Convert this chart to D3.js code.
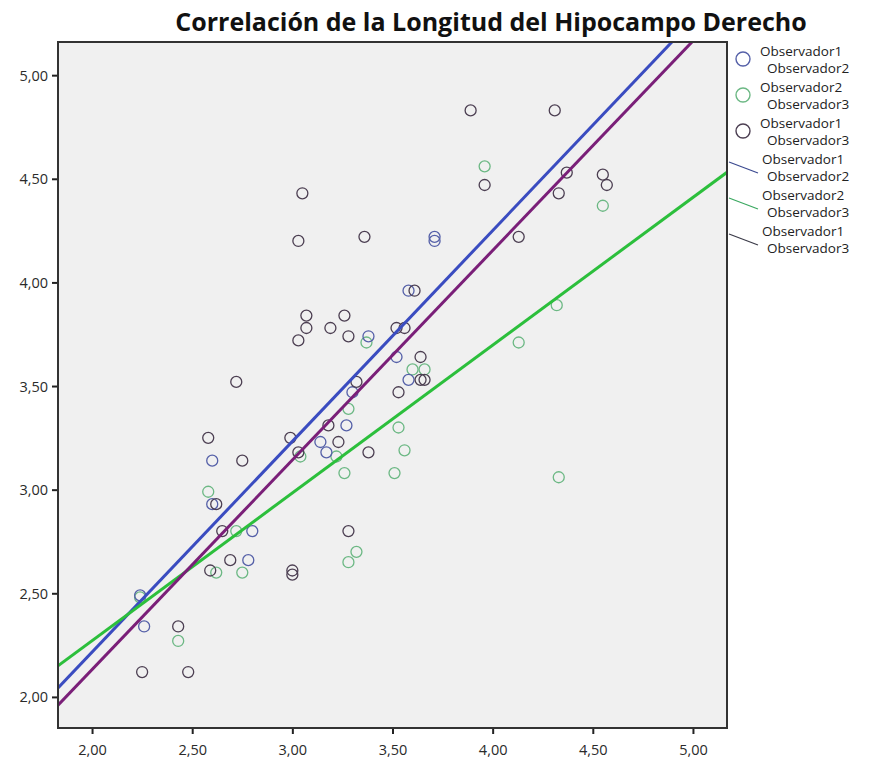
<!DOCTYPE html>
<html>
<head>
<meta charset="utf-8">
<script src="https://cdn.jsdelivr.net/npm/d3@7"></script>
<style>
  body { margin: 0; background: #fff; }
  text { font-family: "Open Sans", "DejaVu Sans", sans-serif; }
</style>
</head>
<body>
<div id="chart"></div>
<script>
const TITLE = "Correlación de la Longitud del Hipocampo Derecho";
const SERIES = [["Observador1", "Observador2"], ["Observador2", "Observador3"], ["Observador1", "Observador3"]];
const TICKS = [2.0, 2.5, 3.0, 3.5, 4.0, 4.5, 5.0];

// Observador1 vs Observador2
const s1x = [3.71, 3.71, 3.58, 3.38, 3.52, 3.58, 3.30, 3.27, 3.14, 3.17, 2.60, 2.60, 2.80, 2.78, 2.24, 2.26];
const s1y = [4.22, 4.20, 3.96, 3.74, 3.64, 3.53, 3.47, 3.31, 3.23, 3.18, 3.14, 2.93, 2.80, 2.66, 2.49, 2.34];
// Observador2 vs Observador3
const s2x = [3.96, 4.55, 4.32, 4.13, 3.37, 3.60, 3.66, 3.28, 3.53, 3.56, 3.22, 3.04, 3.26, 3.51, 4.33, 2.58, 2.72, 3.32, 3.28, 2.62, 2.75, 2.43, 2.24];
const s2y = [4.56, 4.37, 3.89, 3.71, 3.71, 3.58, 3.58, 3.39, 3.30, 3.19, 3.16, 3.16, 3.08, 3.08, 3.06, 2.99, 2.80, 2.70, 2.65, 2.60, 2.60, 2.27, 2.48];
// Observador1 vs Observador3
const s3x = [3.89, 4.31, 3.05, 3.03, 3.36, 3.96, 4.37, 4.55, 4.57, 4.33, 4.13, 3.61, 3.07, 3.07, 3.03, 3.19, 3.26, 3.28, 3.52, 3.56, 2.72, 3.64, 3.64, 3.66, 3.32, 3.53, 2.58, 2.99, 3.18, 3.23, 3.03, 3.38, 2.75, 2.62, 2.65, 3.28, 2.69, 2.59, 3.00, 3.00, 2.43, 2.25, 2.48];
const s3y = [4.83, 4.83, 4.43, 4.20, 4.22, 4.47, 4.53, 4.52, 4.47, 4.43, 4.22, 3.96, 3.84, 3.78, 3.72, 3.78, 3.84, 3.74, 3.78, 3.78, 3.52, 3.64, 3.53, 3.53, 3.52, 3.47, 3.25, 3.25, 3.31, 3.23, 3.18, 3.18, 3.14, 2.93, 2.80, 2.80, 2.66, 2.61, 2.61, 2.59, 2.34, 2.12, 2.12];

// fit lines: y = a + b x
const FIT_A = [0.182, 0.845, 0.110];
const FIT_B = [1.017, 0.713, 1.011];

const POINT_COLORS = ["#5560a8", "#6cb884", "#4c3f52"];
const LINE_COLORS = ["#3a4cc0", "#2cbf3c", "#7a1f78"];
const LEGEND_LINE_COLORS = ["#3b4a90", "#3aa860", "#3a3a48"];

const W = 872, H = 759;
const PLOT = { left: 58, right: 727, top: 42, bottom: 728 };

const x = d3.scaleLinear().domain([1.83, 5.17]).range([PLOT.left, PLOT.right]);
const y = d3.scaleLinear().domain([1.85, 5.16]).range([PLOT.bottom, PLOT.top]);
const fmt = d => d3.format(".2f")(d).replace(".", ",");

const svg = d3.select("#chart").append("svg").attr("width", W).attr("height", H);

svg.append("text")
  .attr("x", 491).attr("y", 31)
  .attr("text-anchor", "middle")
  .attr("font-size", 25).attr("font-weight", "bold")
  .attr("fill", "#111")
  .text(TITLE);

svg.append("rect")
  .attr("x", PLOT.left).attr("y", PLOT.top)
  .attr("width", PLOT.right - PLOT.left).attr("height", PLOT.bottom - PLOT.top)
  .attr("fill", "#f0f0f0");

svg.append("defs").append("clipPath").attr("id", "clip")
  .append("rect")
  .attr("x", PLOT.left).attr("y", PLOT.top)
  .attr("width", PLOT.right - PLOT.left).attr("height", PLOT.bottom - PLOT.top);

const plot = svg.append("g").attr("clip-path", "url(#clip)");

const series = [[s1x, s1y], [s2x, s2y], [s3x, s3y]];

// points: draw in order so dark series ends up on top like the original
[1, 0, 2].forEach(i => {
  const [xs, ys] = series[i];
  plot.append("g").selectAll("circle")
    .data(d3.zip(xs, ys))
    .join("circle")
    .attr("cx", d => x(d[0]))
    .attr("cy", d => y(d[1]))
    .attr("r", 5.5)
    .attr("fill", "none")
    .attr("stroke", POINT_COLORS[i])
    .attr("stroke-width", 1.3);
});

// fit lines
const line = d3.line().x(d => x(d[0])).y(d => y(d[1]));
FIT_A.forEach((a, i) => {
  const xs = x.domain();
  plot.append("path")
    .attr("d", line(xs.map(v => [v, a + FIT_B[i] * v])))
    .attr("fill", "none")
    .attr("stroke", LINE_COLORS[i])
    .attr("stroke-width", 3);
});

// axes
const xAxis = svg.append("g")
  .attr("transform", `translate(0,${PLOT.bottom})`)
  .call(d3.axisBottom(x).tickValues(TICKS).tickFormat(fmt).tickSize(6).tickSizeOuter(0));
const yAxis = svg.append("g")
  .attr("transform", `translate(${PLOT.left},0)`)
  .call(d3.axisLeft(y).tickValues(TICKS).tickFormat(fmt).tickSize(6).tickSizeOuter(0));
[xAxis, yAxis].forEach(g => {
  g.select(".domain").remove();
  g.selectAll(".tick line").attr("stroke", "#222").attr("stroke-width", 2);
  g.selectAll(".tick text").attr("font-size", 14.5).attr("fill", "#2a2a2a");
});
xAxis.selectAll(".tick text").attr("dy", "1.25em");
yAxis.selectAll(".tick text").attr("dx", "-1px").attr("dy", "0.35em");

svg.append("rect")
  .attr("x", PLOT.left).attr("y", PLOT.top)
  .attr("width", PLOT.right - PLOT.left).attr("height", PLOT.bottom - PLOT.top)
  .attr("fill", "none").attr("stroke", "#333").attr("stroke-width", 2);

// legend
const legend = svg.append("g");
SERIES.forEach((names, i) => {
  const top = 52 + i * 36;
  legend.append("circle")
    .attr("cx", 743).attr("cy", top + 7).attr("r", 7)
    .attr("fill", "none").attr("stroke", POINT_COLORS[i]).attr("stroke-width", 1.4);
  legend.append("text").attr("x", 760).attr("y", top + 4).attr("font-size", 13.5).attr("fill", "#222").text(names[0]);
  legend.append("text").attr("x", 767).attr("y", top + 21).attr("font-size", 13.5).attr("fill", "#222").text(names[1]);
});
SERIES.forEach((names, i) => {
  const top = 162 + i * 36;
  legend.append("line")
    .attr("x1", 729).attr("y1", top).attr("x2", 758).attr("y2", top + 11)
    .attr("stroke", LEGEND_LINE_COLORS[i]).attr("stroke-width", 1.2);
  legend.append("text").attr("x", 762).attr("y", top + 2).attr("font-size", 13.5).attr("fill", "#222").text(names[0]);
  legend.append("text").attr("x", 767).attr("y", top + 19).attr("font-size", 13.5).attr("fill", "#222").text(names[1]);
});
</script>
</body>
</html>
